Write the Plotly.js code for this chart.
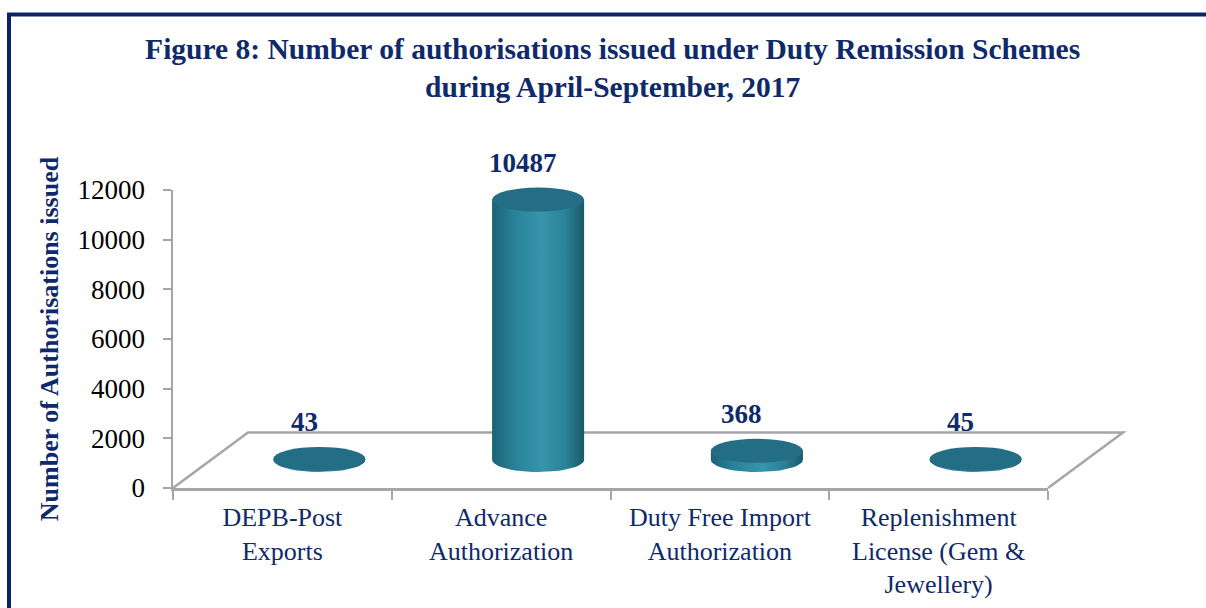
<!DOCTYPE html>
<html><head><meta charset="utf-8">
<script src="https://cdn.plot.ly/plotly-3.0.1.min.js"></script>
<style>html,body{margin:0;padding:0;background:#fff}#chart{width:1206px;height:608px}</style>
</head><body><div id="chart"></div>
<script>
// ---- data ----
const categories = ['DEPB-Post<br>Exports', 'Advance<br>Authorization', 'Duty Free Import<br>Authorization', 'Replenishment<br>License (Gem &<br>Jewellery)'];
const values = [43, 10487, 368, 45];
const valueLabels = ['43', '10487', '368', '45'];
const yTickValues = [0, 2000, 4000, 6000, 8000, 10000, 12000];
const yTickText = ['0', '2000', '4000', '6000', '8000', '10000', '12000'];

// ---- geometry ----
const W = 1206, H = 608;
const L = 173, R = 81, T = 150, B = 120;
const plotW = W - L - R, plotH = H - T - B;   // 952 x 338
const axisPxW = 875, axisPxH = 298;           // front axes size
const yMax = 12000;
const unitsPerPx = yMax / axisPxH;
const depthX = 37, depthY = 28;               // bar row offset (3-D depth)
const floorDX = 75, floorDY = 55.5;           // back edge of floor
const barWidth = 0.42;
const ry = 12 * unitsPerPx;                   // ellipse half-height in data units
const rx = barWidth / 2;
const idx = categories.map((c, i) => i);

const navy = '#0F2A6B';
const grey = '#A6A6A6';
const bodyColor = '#2C879F';
const topColor = '#246E85';

const shapes = [];
const fx = p => p / plotW, fy = p => p / plotH;
// floor plane (decoration)
shapes.push({
  type: 'path', xref: 'paper', yref: 'paper', layer: 'below',
  path: `M 0,0 L ${fx(floorDX)},${fy(floorDY)} L ${fx(axisPxW + floorDX)},${fy(floorDY)} L ${fx(axisPxW)},0`,
  line: {color: grey, width: 2.5}, fillcolor: 'rgba(0,0,0,0)'
});
// outer border
shapes.push({
  type: 'rect', xref: 'paper', yref: 'paper', layer: 'above',
  x0: (9 - L) / plotW, x1: (W + 10 - L) / plotW,
  y0: (T + plotH - (H + 10)) / plotH, y1: (T + plotH - 14.5) / plotH,
  line: {color: '#0B2366', width: 4}, fillcolor: 'rgba(0,0,0,0)'
});
// cylinder tops from data
values.forEach((v, i) => {
  shapes.push({type: 'circle', xref: 'x2', yref: 'y2', layer: 'above',
    x0: i - rx, x1: i + rx, y0: v - ry, y1: v + ry,
    fillcolor: topColor, line: {width: 0}});
});

const annotations = values.map((v, i) => ({
  xref: 'x2', yref: 'y2', x: i, y: v + ry, text: '<b>' + valueLabels[i] + '</b>',
  showarrow: false, yanchor: 'bottom', xanchor: 'center', xshift: -15, yshift: 8,
  font: {family: 'Liberation Serif', size: 27, color: navy}
}));

const y2Low = -depthY * unitsPerPx;
const y2High = y2Low + plotH * unitsPerPx;

// shaded cylinder bodies (outline built from each value)
const arcN = 24;
const bodies = values.map((v, i) => {
  const xs = [], ys = [];
  for (let k = 0; k <= arcN; k++) {
    const t = Math.PI + Math.PI * k / arcN;      // lower half of base ellipse
    xs.push(i + rx * Math.cos(t));
    ys.push(ry * Math.sin(t));
  }
  xs.push(i + rx, i - rx, i - rx);
  ys.push(v, v, 0);
  return {
    type: 'scatter', mode: 'lines', x: xs, y: ys, xaxis: 'x2', yaxis: 'y2',
    fill: 'toself', line: {width: 0, color: bodyColor},
    fillgradient: {type: 'horizontal',
      colorscale: [[0, '#1D6275'], [0.25, '#2A8299'], [0.55, '#3695AD'], [0.8, '#2A8197'], [1, '#1B596B']]},
    hoverinfo: 'skip', showlegend: false
  };
});

const traces = [
  {type: 'bar', x: idx, y: values, xaxis: 'x2', yaxis: 'y2', width: barWidth,
   hovertext: categories, marker: {color: bodyColor, line: {width: 0}}, showlegend: false},
  ...bodies,
  {type: 'scatter', x: categories, y: values.map(() => null), xaxis: 'x', yaxis: 'y',
   mode: 'markers', showlegend: false, hoverinfo: 'skip'}
];

const layout = {
  width: W, height: H,
  margin: {l: L, r: R, t: T, b: B, pad: 0},
  paper_bgcolor: '#fff', plot_bgcolor: 'rgba(0,0,0,0)',
  showlegend: false,
  font: {family: 'Liberation Serif', color: '#000'},
  title: {
    text: '<b>Figure 8: Number of authorisations issued under Duty Remission Schemes<br>during April-September, 2017</b>',
    x: 0.508, xanchor: 'center', y: 1 - 59 / H, yanchor: 'middle',
    font: {family: 'Liberation Serif', size: 29.5, color: navy}
  },
  xaxis: {
    domain: [0, axisPxW / plotW], type: 'category', categoryorder: 'array', categoryarray: categories,
    range: [-0.5, 3.5], showline: true, linecolor: grey, linewidth: 2.5,
    ticks: 'outside', tickson: 'boundaries', ticklen: 9, tickcolor: grey, tickwidth: 2,
    tickfont: {family: 'Liberation Serif', size: 26, color: navy}, showgrid: false, zeroline: false,
    ticklabelstandoff: 4, fixedrange: true
  },
  yaxis: {
    domain: [0, axisPxH / plotH], range: [0, yMax], tickvals: yTickValues, ticktext: yTickText,
    showline: true, linecolor: grey, linewidth: 2.5, ticks: 'outside', ticklen: 8, tickcolor: grey, tickwidth: 2,
    tickfont: {family: 'Liberation Serif', size: 27, color: '#000'}, showgrid: false, zeroline: false,
    ticklabelstandoff: 12,
    title: {text: '<b>Number of Authorisations issued</b>', standoff: 12,
      font: {family: 'Liberation Serif', size: 26, color: navy}},
    fixedrange: true
  },
  xaxis2: {
    domain: [depthX / plotW, (axisPxW + depthX) / plotW], anchor: 'y2',
    range: [-0.5, 3.5], visible: false, fixedrange: true
  },
  yaxis2: {
    domain: [0, 1], anchor: 'x2', range: [y2Low, y2High], visible: false, fixedrange: true
  },
  shapes: shapes,
  annotations: annotations
};

Plotly.newPlot('chart', traces, layout, {displayModeBar: false, staticPlot: true});
</script>
</body></html>
